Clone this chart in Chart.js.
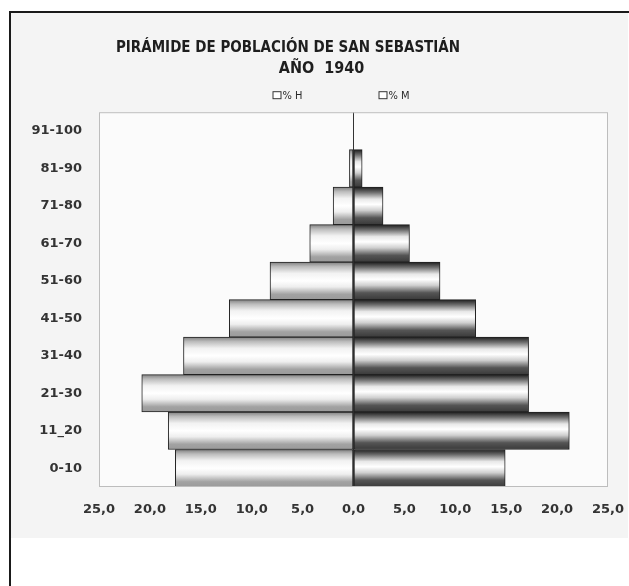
<!DOCTYPE html>
<html>
<head>
<meta charset="utf-8">
<script src="https://cdn.jsdelivr.net/npm/chart.js@4.4.1/dist/chart.umd.min.js"></script>
<style>
  html, body { margin: 0; padding: 0; background: #ffffff; }
  #frame { position: absolute; left: 9px; top: 11px; width: 620px; height: 575px;
           border-top: 2px solid #1a1a1a; border-left: 2px solid #1a1a1a; box-sizing: border-box; }
  #wrap { position: absolute; left: 11px; top: 13px; width: 617px; height: 525px; background: #f4f4f4; }
  canvas { display: block; }
</style>
</head>
<body>
<div id="frame"></div>
<div id="wrap"><canvas id="c" width="617" height="525"></canvas></div>
<script>
// ---- data ----
const titleLine1 = 'PIRÁMIDE DE POBLACIÓN DE SAN SEBASTIÁN';
const titleLine2 = 'AÑO  1940';
const ageGroups = ['91-100', '81-90', '71-80', '61-70', '51-60', '41-50', '31-40', '21-30', '11_20', '0-10'];
const hombres = [0, 0.4, 2.0, 4.3, 8.2, 12.2, 16.7, 20.8, 18.2, 17.5];   // % H (drawn to the left)
const mujeres = [0, 0.85, 2.9, 5.5, 8.5, 12.0, 17.2, 17.2, 21.2, 14.9]; // % M
const seriesLabels = ['% H', '% M'];
const xTickMin = -25, xTickMax = 25, xTickStep = 5;

// ---- styles ----
const stopsH = [[0, '#808080'], [0.12, '#bcbcbc'], [0.3, '#f2f2f2'], [0.5, '#ffffff'], [0.66, '#eeeeee'], [0.86, '#a2a2a2'], [1, '#9a9a9a']];
const stopsM = [[0, '#1e1e1e'], [0.14, '#6e6e6e'], [0.32, '#e8e8e8'], [0.46, '#ffffff'], [0.62, '#cfcfcf'], [0.82, '#555555'], [1, '#3a3a3a']];

function bandGradient(chart, stops) {
  const area = chart.chartArea;
  if (!area) return '#cccccc';
  const n = chart.data.labels.length;
  const g = chart.ctx.createLinearGradient(0, area.top, 0, area.bottom);
  for (let i = 0; i < n; i++) {
    for (const [f, c] of stops) {
      let p = (i + f * 0.999 + (f === 0 ? 0.0005 : 0)) / n;
      g.addColorStop(Math.min(1, Math.max(0, p)), c);
    }
  }
  return g;
}

const fontCond = "'DejaVu Sans Condensed', 'Liberation Sans Narrow', 'DejaVu Sans', sans-serif";
const fontMain = "'DejaVu Sans', sans-serif";

const framePlugin = {
  id: 'framePlugin',
  afterLayout(chart) {
    // title line 1 sits slightly left of centre, line 2 slightly right, as in the original
    chart.boxes.forEach((b) => {
      if (b.options && b.options.text === titleLine1) { b.left = 0; b.right = 554; }
      if (b.options && b.options.text === titleLine2) { b.left = 4; b.right = 617; }
    });
  },
  beforeDraw(chart) {
    const { ctx, chartArea: a } = chart;
    ctx.save();
    ctx.fillStyle = '#fbfbfb';
    ctx.fillRect(a.left, a.top, a.right - a.left, a.bottom - a.top);
    ctx.restore();
  },
  afterDraw(chart) {
    const { ctx, chartArea: a } = chart;
    ctx.save();
    ctx.strokeStyle = '#bdbdbd';
    ctx.lineWidth = 1;
    ctx.strokeRect(a.left + 0.5, a.top + 0.5, a.right - a.left - 1, a.bottom - a.top - 1);
    // legend
    const cx = (a.left + a.right) / 2;
    const y = a.top - 17;
    const xs = [cx - 81, cx + 25];
    ctx.font = '11px ' + fontCond;
    ctx.textBaseline = 'middle';
    ctx.textAlign = 'left';
    chart.data.datasets.forEach((ds, i) => {
      ctx.fillStyle = '#ffffff';
      ctx.fillRect(xs[i], y - 4, 8, 8);
      ctx.strokeStyle = '#333333';
      ctx.lineWidth = 1;
      ctx.strokeRect(xs[i] + 0.5, y - 3.5, 8, 7);
      ctx.fillStyle = '#2a2a2a';
      ctx.fillText(ds.label, xs[i] + 10, y + 0.5);
    });
    ctx.restore();
  }
};

new Chart(document.getElementById('c'), {
  type: 'bar',
  data: {
    labels: ageGroups,
    datasets: [
      {
        label: seriesLabels[0],
        data: hombres.map(v => -v),
        backgroundColor: (ctx) => bandGradient(ctx.chart, stopsH),
        borderColor: '#222222',
        borderWidth: 1,
        borderSkipped: false,
        barPercentage: 1,
        categoryPercentage: 1
      },
      {
        label: seriesLabels[1],
        data: mujeres,
        backgroundColor: (ctx) => bandGradient(ctx.chart, stopsM),
        borderColor: '#222222',
        borderWidth: 1,
        borderSkipped: false,
        barPercentage: 1,
        categoryPercentage: 1
      }
    ]
  },
  options: {
    indexAxis: 'y',
    responsive: false,
    animation: false,
    devicePixelRatio: 1,
    layout: { padding: { left: 0, right: 20, top: 0, bottom: 0 } },
    plugins: {
      legend: { display: false },
      tooltip: { enabled: false },
      title: {
        display: true,
        text: titleLine1,
        color: '#1e1e1e',
        font: { family: fontCond, size: 15, weight: 'bold', lineHeight: 1.2 },
        padding: { top: 26, bottom: 0 }
      },
      subtitle: {
        display: true,
        text: titleLine2,
        color: '#1e1e1e',
        font: { family: fontCond, size: 16, weight: 'bold', lineHeight: 1.2 },
        padding: { top: 2, bottom: 34 }
      }
    },
    scales: {
      x: {
        type: 'linear',
        stacked: true,
        min: xTickMin,
        max: xTickMax,
        z: 1,
        ticks: {
          stepSize: xTickStep,
          padding: 15,
          color: '#333333',
          font: { family: fontMain, size: 13, weight: 'bold' },
          callback: (v) => Math.abs(v).toFixed(1).replace('.', ',')
        },
        grid: {
          drawTicks: false,
          lineWidth: 1,
          color: (c) => (c.tick && c.tick.value === 0 ? '#333333' : 'rgba(0,0,0,0)')
        },
        border: { display: false },
        afterFit: (s) => { s.height = 51; s.paddingRight = 0; s.paddingLeft = 0; }
      },
      y: {
        stacked: true,
        ticks: {
          padding: 17,
          color: '#333333',
          font: { family: fontMain, size: 13, weight: 'bold' }
        },
        grid: { display: false, drawTicks: false },
        border: { display: false },
        afterFit: (s) => { s.width = 88; }
      }
    }
  },
  plugins: [framePlugin]
});
</script>
</body>
</html>
